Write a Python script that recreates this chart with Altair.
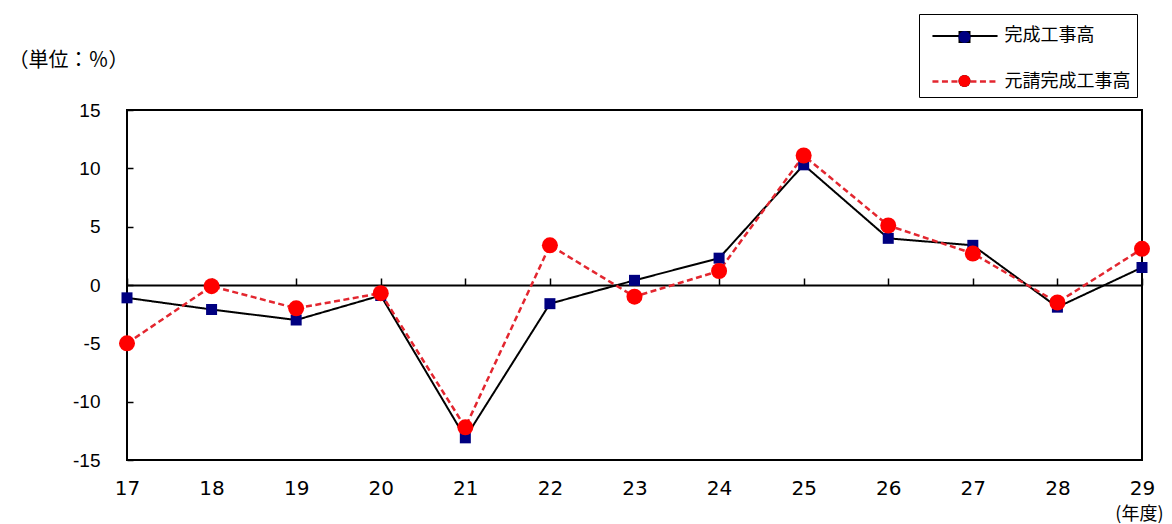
import altair as alt
import pandas as pd

# ---- data ----
years = list(range(17, 30))
kansei = [-1.1, -2.1, -3.0, -0.9, -13.1, -1.6, 0.4, 2.3, 10.3, 4.0, 3.4, -1.9, 1.5]
motouke = [-5.0, -0.1, -2.0, -0.7, -12.2, 3.4, -1.0, 1.2, 11.1, 5.1, 2.7, -1.5, 3.1]
series_names = ["完成工事高", "元請完成工事高"]
y_ticks = [15, 10, 5, 0, -5, -10, -15]
unit_label = "（単位：％）"
year_label = "(年度)"

rows = []
for name, vals in zip(series_names, [kansei, motouke]):
    for yr, v in zip(years, vals):
        rows.append({"year": yr, "value": v, "series": name, "series_m": name})
df = pd.DataFrame(rows)

NUM_FONT = "Liberation Sans, Arial, Noto Sans CJK JP"
XNUM_FONT = "DejaVu Sans, Liberation Sans, Noto Sans CJK JP"
JP_FONT = "Noto Sans CJK JP"

x_scale = alt.Scale(domain=[17, 29], nice=False, zero=False)
y_scale = alt.Scale(domain=[-15, 15], nice=False, zero=False)

x_bottom = alt.X(
    "year:Q", scale=x_scale,
    axis=alt.Axis(
        orient="bottom", values=years, format="d", ticks=False, tickSize=0,
        domain=False, grid=False, labelFlush=False, labelFontSize=20,
        labelFont=XNUM_FONT, labelColor="black", labelPadding=18,
        title=year_label, titleFont=JP_FONT, titleFontSize=18,
        titleFontWeight="normal", titleColor="black", titleX=1036, titleY=54,
        titleAlign="right", titleBaseline="middle",
    ),
)

x_top = alt.X(
    "year:Q", scale=x_scale,
    axis=alt.Axis(
        orient="top", offset=-175, values=years, labels=False, ticks=True,
        tickSize=7, tickColor="black", tickWidth=1.5, domain=True,
        domainColor="black", domainWidth=2, grid=False, title=None,
    ),
)

y_enc = alt.Y(
    "value:Q", scale=y_scale,
    axis=alt.Axis(
        orient="left", offset=-6, values=y_ticks, domain=False, ticks=True,
        tickSize=6, tickColor="black", tickWidth=1.5, grid=False,
        labelFlush=False, labelFontSize=19, labelFont=NUM_FONT,
        labelColor="black", labelPadding=27, labelExpr="datum.value + ''",
        title=unit_label, titleAngle=0, titleX=-125, titleY=-50,
        titleAlign="left", titleBaseline="middle", titleFont=JP_FONT,
        titleFontSize=20, titleFontWeight="normal", titleColor="black",
    ),
)

leg_lines = alt.Legend(
    orient="none", legendX=792, legendY=-96, title=None,
    symbolType="M-2.17,0H2.17", symbolSize=900, symbolStrokeWidth=2,
    symbolOffset=23.5, labelOffset=23, labelFont=JP_FONT, labelFontSize=18,
    labelColor="black", padding=6, rowPadding=20, strokeColor="black",
    fillColor="white",
)

leg_marks = alt.Legend(
    orient="none", legendX=792, legendY=-85, title=None,
    symbolSize=144, symbolStrokeWidth=0, symbolOffset=33.5,
    labelExpr="''", labelFontSize=1, padding=6, rowPadding=32,
)

lines = alt.Chart(df).mark_line().encode(
    x=x_bottom,
    y=y_enc,
    stroke=alt.Stroke("series:N", sort=series_names,
                      scale=alt.Scale(domain=series_names, range=["black", "#e3262f"]),
                      legend=leg_lines),
    strokeDash=alt.StrokeDash("series:N", sort=series_names,
                              scale=alt.Scale(domain=series_names, range=[[1, 0], [6, 3.5]]),
                              legend=leg_lines),
    strokeWidth=alt.StrokeWidth("series:N", sort=series_names,
                                scale=alt.Scale(domain=series_names, range=[2, 2.5]),
                                legend=None),
)

points = alt.Chart(df).mark_point(filled=True, opacity=1).encode(
    x=x_top,
    y=y_enc,
    fill=alt.Fill("series_m:N", sort=series_names,
                  scale=alt.Scale(range=["#000080", "#ff0000"]),
                  legend=leg_marks),
    shape=alt.Shape("series_m:N", sort=series_names,
                    scale=alt.Scale(range=["square", "circle"]),
                    legend=leg_marks),
    size=alt.Size("series_m:N", sort=series_names,
                  scale=alt.Scale(range=[121, 256]), legend=None),
)

chart = (
    alt.layer(lines, points)
    .properties(
        width=1015, height=350,
        autosize=alt.AutoSizeParams(type="none"),
        padding={"left": 119, "top": 102, "right": 22, "bottom": 64},
        background="white",
    )
    .configure_view(stroke="black", strokeWidth=2)
)

chart.save("out.html", embed_options={"renderer": "svg", "actions": False})
